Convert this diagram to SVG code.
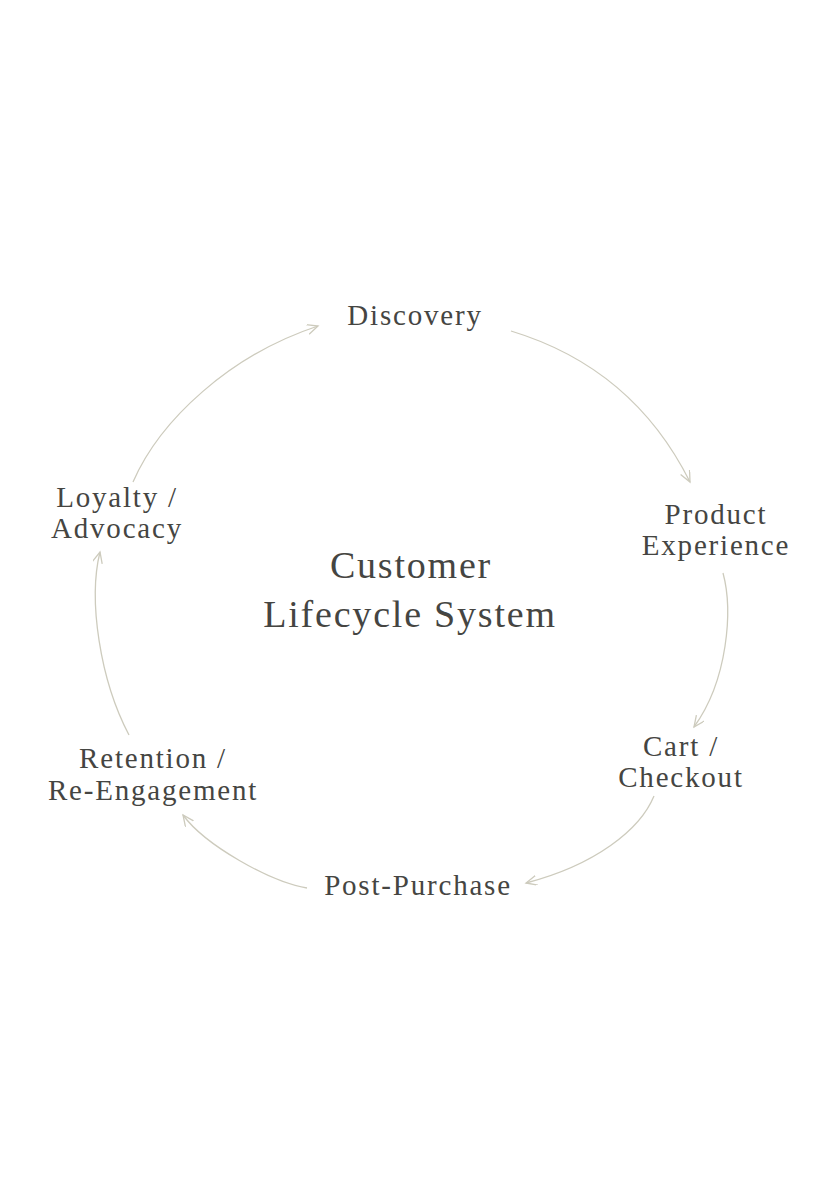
<svg xmlns="http://www.w3.org/2000/svg" width="838" height="1200" viewBox="0 0 838 1200">
<style>
.lbl{font-family:"Liberation Serif","Times New Roman",serif;font-size:29px;fill:#454542;letter-spacing:1.8px;text-anchor:middle}
.title{font-family:"Liberation Serif","Times New Roman",serif;font-size:38px;fill:#454542;letter-spacing:1.8px;text-anchor:middle}
.conn{fill:none;stroke:#cdcbbd;stroke-width:1.3;marker-end:url(#arr)}
</style>
<defs>
<marker id="arr" markerUnits="userSpaceOnUse" markerWidth="14" markerHeight="12" refX="11" refY="5" orient="auto">
<path d="M0,0 L11,5 L0,10" fill="none" stroke="#cdcbbd" stroke-width="1.3"/>
</marker>
</defs>
<rect width="838" height="1200" fill="#ffffff"/>
<g id="connectors">
<path class="conn" d="M511,331 Q633,368 690,482"/>
<path class="conn" d="M723,573 C733,610 728,680 694,727"/>
<path class="conn" d="M654,796 C640,830 595,865 526,883"/>
<path class="conn" d="M307,888 C270,882 205,845 183,815"/>
<path class="conn" d="M129,735 C100,680 88,600 100,552"/>
<path class="conn" d="M133,482 C160,420 230,355 318,326"/>
</g>
<g id="center"><text class="title" x="411" y="578">Customer</text><text class="title" x="410" y="627">Lifecycle System</text></g>
<g id="discovery"><text class="lbl" x="415" y="325">Discovery</text></g>
<g id="product"><text class="lbl" x="716" y="524">Product</text><text class="lbl" x="716" y="555">Experience</text></g>
<g id="cart"><text class="lbl" x="681" y="756">Cart /</text><text class="lbl" x="681" y="787">Checkout</text></g>
<g id="post"><text class="lbl" x="418" y="895">Post-Purchase</text></g>
<g id="retention"><text class="lbl" x="153" y="768">Retention /</text><text class="lbl" x="153" y="800">Re-Engagement</text></g>
<g id="loyalty"><text class="lbl" x="117" y="507">Loyalty /</text><text class="lbl" x="117" y="538">Advocacy</text></g>
</svg>
